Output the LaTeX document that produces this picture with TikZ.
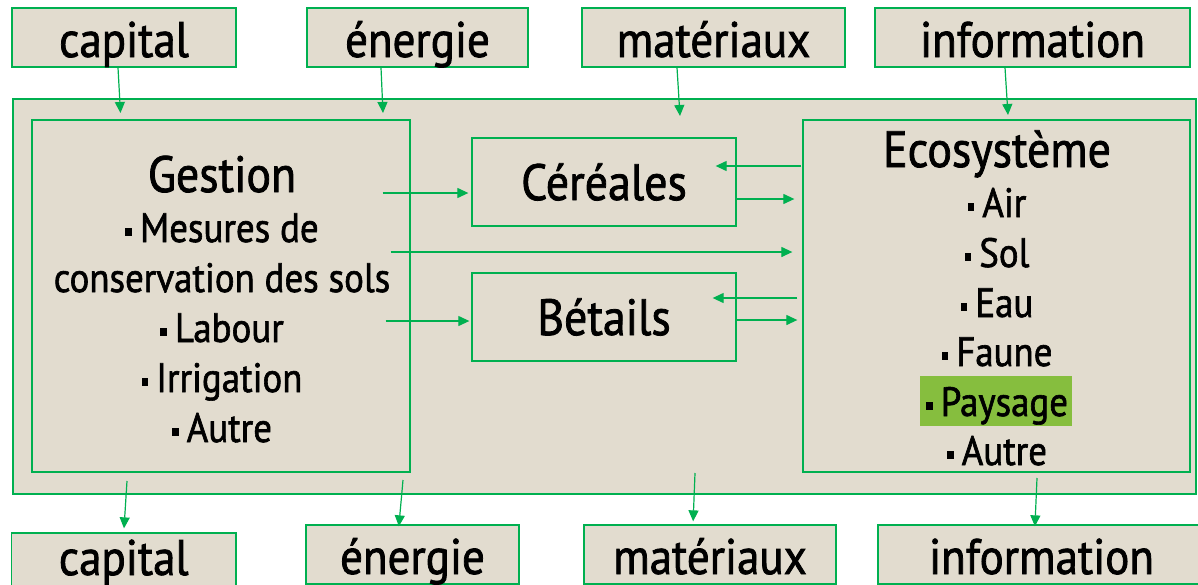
\documentclass[tikz,border=0pt]{standalone}
\usepackage{fontspec}
\setmainfont{PT Sans}[FakeStretch=0.9,FakeBold=1.5]
\usetikzlibrary{arrows.meta,calc,positioning}
\definecolor{frame}{RGB}{0,176,80}
\definecolor{paper}{RGB}{226,220,207}
\definecolor{leaf}{RGB}{134,190,62}
\tikzset{
  box/.style={draw=frame,fill=paper,line width=1.3pt,inner sep=0pt},
  flow/.style={draw=frame,line width=1.2pt,-{Triangle[length=11pt,width=10pt]}},
  lbl/.style={font=\fontsize{50}{54}\selectfont,text height=39pt,text depth=0pt},
  head/.style={font=\fontsize{51}{56}\selectfont,anchor=base},
  item/.style={font=\fontsize{41}{45}\selectfont,anchor=base}
}
\newcommand{\sq}{\raisebox{6pt}{\rule{6.7pt}{8pt}}\hspace{8pt}}

\begin{document}
\begin{tikzpicture}[x=1pt,y=-1pt]
  \useasboundingbox (0,0) rectangle (1198,584);
  \fill[white] (0,0) rectangle (1198,584);
  \clip (0,0) rectangle (1198,584);

  % inputs
  \foreach \name/\txt/\cx/\w in {icap/capital/124/224, iene/énergie/417.5/221,
      imat/matériaux/713.5/263, iinf/information/1032.5/315}
    \node[box,lbl,minimum width=\w pt,minimum height=59pt] (\name) at (\cx,37.5) {\txt};

  % system
  \node[box,minimum width=1183pt,minimum height=395pt] (sys) at (604.5,296.5) {};
  \node[box,minimum width=378pt,minimum height=352pt] (gest) at (221,296) {};
  \node[box,minimum width=387pt,minimum height=352pt] (eco) at (996.5,296) {};
  \node[box,head,anchor=center,minimum width=264pt,minimum height=88pt] (cer) at (604,182) {Céréales};
  \node[box,head,anchor=center,minimum width=264pt,minimum height=88pt] (bet) at (604,317) {Bétails};

  \node[head] (gtitle) at (222,192) {Gestion};
  \foreach \txt/\y [count=\i] in {\sq Mesures de/242, conservation des sols/292,
      \sq Labour/342, \sq Irrigation/392, \sq Autre/442}
    \node[item] (g\i) at (222,\y) {\txt};

  \node[fill=leaf,minimum width=152pt,minimum height=50pt] (hl) at (996,401) {};
  \node[head] (etitle) at (997,167) {Ecosystème};
  \foreach \txt/\y [count=\i] in {\sq Air/217, \sq Sol/267, \sq Eau/317,
      \sq Faune/366, \sq Paysage/416, \sq Autre/465}
    \node[item] (e\i) at (997,\y) {\txt};

  % outputs
  \node[box,lbl,text height=25pt,minimum width=224.5pt,minimum height=59pt] (ocap) at (123.75,562.5) {capital};
  \node[box,lbl,minimum width=213pt,minimum height=59pt] (oene) at (412.5,554.5) {énergie};
  \node[box,lbl,minimum width=252pt,minimum height=59pt] (omat) at (710,554.5) {matériaux};
  \node[box,lbl,minimum width=327pt,minimum height=59pt] (oinf) at (1041.5,554.5) {information};

  % flows in
  \coordinate (tcap) at (120.5,113);
  \coordinate (tene) at (383,113);
  \coordinate (tmat) at (680,116);
  \coordinate (tinf) at (1008,115);
  \draw[flow] ([xshift=-6pt]icap.south) -- (tcap);
  \draw[flow] ([xshift=-36.5pt]iene.south) -- (tene);
  \draw[flow] ([xshift=-36.5pt]imat.south) -- (tmat);
  \draw[flow] ([xshift=-27.5pt]iinf.south) -- (tinf);

  % flows inside
  \draw[flow,shorten >=3pt] ([xshift=-28pt,yshift=-11pt]gest.east |- cer.west) -- ([yshift=-11pt]cer.west);
  \draw[flow,shorten >=2pt] ([xshift=-25pt,yshift=-4pt]gest.east |- bet.west) -- ([yshift=-4pt]bet.west);
  \draw[flow,shorten >=10pt] ([xshift=-20pt,yshift=44pt]gest.east) -- ([yshift=44pt]eco.west);
  \draw[flow] ([xshift=-1pt,yshift=16pt]eco.west |- cer.east) -- ([xshift=-21pt,yshift=16pt]cer.east);
  \draw[flow,shorten >=8pt] ([yshift=-17pt]cer.east) -- ([yshift=-17pt]eco.west |- cer.east);
  \draw[flow] ([xshift=-5pt,yshift=19pt]eco.west |- bet.east) -- ([xshift=-24pt,yshift=19pt]bet.east);
  \draw[flow,shorten >=5pt] ([yshift=-3pt]bet.east) -- ([yshift=-3pt]eco.west |- bet.east);

  % flows out
  \coordinate (scap) at (127,481);
  \coordinate (sene) at (403,480);
  \coordinate (smat) at (695,473);
  \coordinate (sinf) at (1037,478);
  \draw[flow,shorten >=4pt] (scap) -- (ocap.north);
  \draw[flow,shorten >=-2pt] (sene) -- ([xshift=-13.5pt]oene.north);
  \draw[flow,shorten >=3pt] (smat) -- ([xshift=-17pt]omat.north);
  \draw[flow,shorten >=-2pt] (sinf) -- ([xshift=-6.5pt]oinf.north);
\end{tikzpicture}
\end{document}
